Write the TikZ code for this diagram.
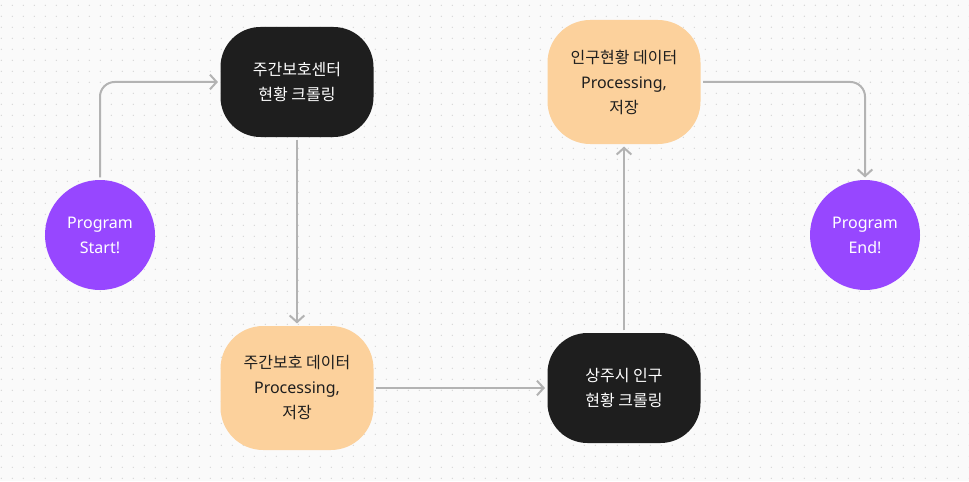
\documentclass[tikz,border=0pt]{standalone}
\usepackage{fontspec}
\setmainfont{Noto Sans}
\newfontfamily\krfont{Noto Sans CJK KR}
\usetikzlibrary{arrows.meta}
\definecolor{figpurple}{HTML}{9747FF}
\definecolor{figorange}{HTML}{FCD19C}
\definecolor{figblack}{HTML}{1E1E1E}
\definecolor{figline}{HTML}{B3B3B3}
\definecolor{figdot}{HTML}{D6D6D6}
\definecolor{figbg}{HTML}{FAFAFA}
\begin{document}
\begin{tikzpicture}[x=0.75pt, y=-0.75pt, thick,
	font=\fontsize{12pt}{18.75pt}\selectfont,
	term/.style = {circle, fill=figpurple, text=white, minimum size=82.5pt, inner sep=0pt, align=center},
	crawl/.style = {rectangle, rounded corners=30pt, fill=figblack, text=white, minimum width=114.75pt, minimum height=82.5pt, align=center},
	store/.style = {rectangle, rounded corners=32pt, fill=figorange, text=figblack, minimum width=114.75pt, minimum height=93pt, align=center},
	flow/.style = {draw=figline, line width=1.5pt, -{Straight Barb[length=5pt, width=11pt]}, rounded corners=11pt, shorten <=1.5pt, shorten >=1.5pt}]
			% canvas and dot grid
			\fill[figbg] (0,0) rectangle (969,481);
			\useasboundingbox (0,0) rectangle (969,481);
			\foreach \i in {0,...,88}
				\foreach \j in {0,...,43}
					\fill[figdot] (1.3+11*\i, 5.3+11*\j) circle (0.55pt);
			% nodes
			\node[term] (1) at (100,235) {Program\\Start!};
			\node[crawl] (2) at (297,82) {\krfont 주간보호센터\\\krfont 현황 크롤링};
			\node[store] (3) [below of=2, node distance=229.5pt] {\krfont 주간보호 데이터\\Processing,\\\krfont 저장};
			\node[crawl] (4) [right of=3, node distance=245.25pt] {\krfont 상주시 인구\\\krfont 현황 크롤링};
			\node[store] (5) [above of=4, node distance=229.5pt] {\krfont 인구현황 데이터\\Processing,\\\krfont 저장};
			\node[term] (6) at (865,235) {Program\\End!};
			% connectors
			\draw[flow] (1) |- (2);
			\draw[flow] (2) -- (3);
			\draw[flow] (3) -- (4);
			\draw[flow] (4) -- (5);
			\draw[flow] (5) -| (6);
		\end{tikzpicture}
\end{document}
